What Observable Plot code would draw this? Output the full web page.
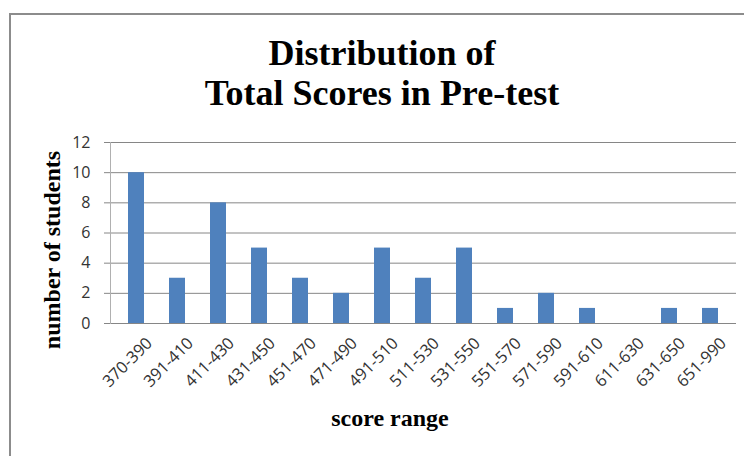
<!DOCTYPE html>
<html>
<head>
<meta charset="utf-8">
<script src="https://cdn.jsdelivr.net/npm/d3@7"></script>
<script src="https://cdn.jsdelivr.net/npm/@observablehq/plot@0.6"></script>
<style>
  html, body { margin: 0; padding: 0; background: #fff; }
  #page { position: relative; width: 744px; height: 456px; overflow: hidden; background: #fff; }
  #frame { position: absolute; left: 9px; top: 13px; width: 800px; height: 500px;
           border-left: 2px solid #8c8c8c; border-top: 2px solid #8c8c8c; box-sizing: border-box; }
  #title { position: absolute; left: 0; top: 33px; width: 764px; text-align: center;
           font-family: "Liberation Serif", "Times New Roman", serif; font-weight: bold;
           font-size: 36px; line-height: 40px; color: #000; }
  #chart { position: absolute; left: 0; top: 0; }
  .axlabel { position: absolute; font-family: "Liberation Serif", "Times New Roman", serif;
             font-weight: bold; font-size: 24px; color: #000; white-space: nowrap; line-height: 1; }
  #xlabel { left: 390px; top: 418px; transform: translate(-50%, -50%); }
  #ylabel { left: 52px; top: 250px; transform: translate(-50%, -50%) rotate(-90deg); }
</style>
</head>
<body>
<div id="page">
  <div id="frame"></div>
  <div id="chart"></div>
  <div id="title">Distribution of<br>Total Scores in Pre-test</div>
  <div class="axlabel" id="xlabel">score range</div>
  <div class="axlabel" id="ylabel">number of students</div>
</div>
<script>
const categories = ["370-390","391-410","411-430","431-450","451-470","471-490","491-510","511-530","531-550","551-570","571-590","591-610","611-630","631-650","651-990"];
const students = [10, 3, 8, 5, 3, 2, 5, 3, 5, 1, 2, 1, 0, 1, 1];
const yTicks = [0, 2, 4, 6, 8, 10, 12];

const data = categories.map((c, i) => ({range: c, count: students[i]}));

const chart = Plot.plot({
  width: 744,
  height: 456,
  marginTop: 142,
  marginBottom: 133,
  marginLeft: 110,
  marginRight: 8,
  style: {background: "transparent", fontFamily: "'Open Sans', sans-serif", color: "#333"},
  x: {domain: categories, paddingInner: 0.6, paddingOuter: 0.33, label: null},
  y: {domain: [0, 12], label: null},
  marks: [
    Plot.gridY(yTicks, {stroke: "#868686", strokeOpacity: 1}),
    Plot.axisY(yTicks, {tickSize: 6, tickPadding: 14, stroke: "#868686", fontSize: 16, fill: "#333", label: null}),
    Plot.barY(data, {x: "range", y: "count", fill: "#4F81BD"}),
    Plot.ruleY([0], {stroke: "#868686"}),
    Plot.frame({anchor: "left", stroke: "#b0b0b0"}),
    Plot.axisX({tickSize: 0, tickRotate: -45, tickPadding: 17, dx: 13, fontSize: 16.5, fill: "#333", label: null})
  ]
});
document.getElementById("chart").appendChild(chart);
</script>
</body>
</html>
